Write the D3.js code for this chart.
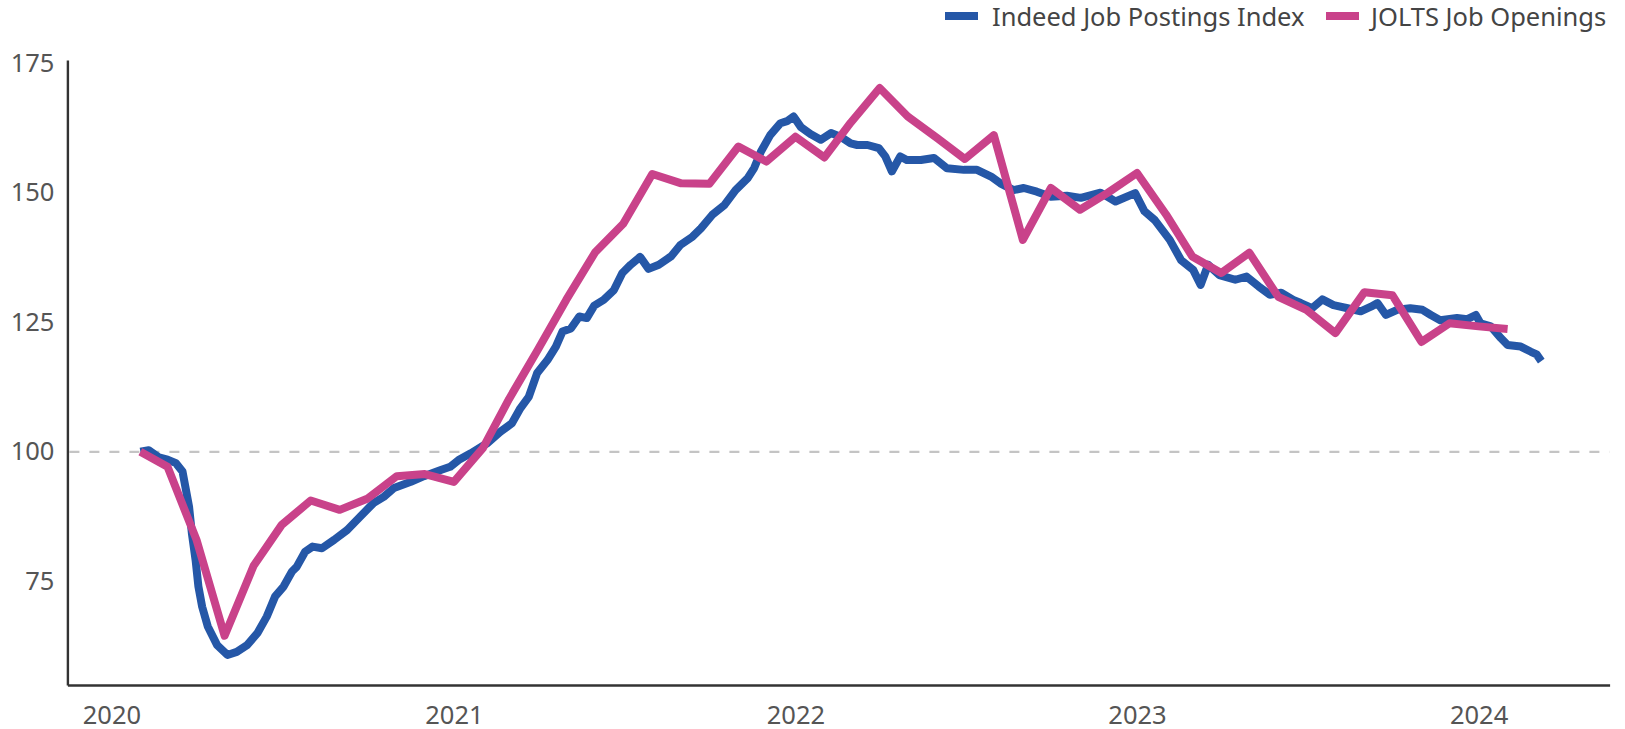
<!DOCTYPE html>
<html>
<head>
<meta charset="utf-8">
<script src="https://cdn.jsdelivr.net/npm/d3@7"></script>
<style>
  html, body { margin: 0; padding: 0; background: #fff; }
  svg { display: block; font-family: "Noto Sans", "Open Sans", sans-serif; }
</style>
</head>
<body>
<svg id="chart" width="1625" height="729"></svg>
<script>
// ---------------- DATA ----------------
const seriesNames = ["Indeed Job Postings Index", "JOLTS Job Openings"];
const yTickValues = [75, 100, 125, 150, 175];
const xTickYears = ["2020", "2021", "2022", "2023", "2024"];
const baselineValue = 100;

// JOLTS job openings, monthly, indexed (Feb 2020 = 100)
const joltsDates = [
  "2020-02-01","2020-03-01","2020-04-01","2020-05-01","2020-06-01","2020-07-01","2020-08-01","2020-09-01","2020-10-01","2020-11-01","2020-12-01",
  "2021-01-01","2021-02-01","2021-03-01","2021-04-01","2021-05-01","2021-06-01","2021-07-01","2021-08-01","2021-09-01","2021-10-01","2021-11-01","2021-12-01",
  "2022-01-01","2022-02-01","2022-03-01","2022-04-01","2022-05-01","2022-06-01","2022-07-01","2022-08-01","2022-09-01","2022-10-01","2022-11-01","2022-12-01",
  "2023-01-01","2023-02-01","2023-03-01","2023-04-01","2023-05-01","2023-06-01","2023-07-01","2023-08-01","2023-09-01","2023-10-01","2023-11-01","2023-12-01",
  "2024-01-01","2024-02-01"
];
const joltsValues = [
  100, 97.1, 83.0, 64.5, 78.0, 85.9, 90.6, 88.8, 91.0, 95.3, 95.7,
  94.2, 100.7, 110.2, 119.8, 129.3, 138.5, 144.0, 153.6, 151.8, 151.7, 158.9, 156.0,
  160.8, 156.8, 163.5, 170.2, 164.7, 160.6, 156.5, 161.1, 140.9, 150.9, 146.7, 150.0,
  153.8, 145.8, 137.7, 134.5, 138.4, 129.9, 127.4, 122.9, 130.8, 130.2, 121.2, 124.8,
  124.2, 123.7
];

// Indeed Job Postings Index (Feb 1, 2020 = 100)
const indeedDates = [
  "2020-02-01","2020-02-10","2020-02-21","2020-03-01","2020-03-10","2020-03-17","2020-03-20","2020-03-24","2020-03-27","2020-03-31",
  "2020-04-03","2020-04-07","2020-04-13","2020-04-23","2020-05-04","2020-05-14","2020-05-25","2020-06-05","2020-06-15","2020-06-24",
  "2020-07-03","2020-07-12","2020-07-17","2020-07-26","2020-08-03","2020-08-13","2020-08-26","2020-09-09","2020-09-23","2020-10-07",
  "2020-10-18","2020-10-29","2020-11-16","2020-11-30","2020-12-18","2020-12-28",
  "2021-01-06","2021-01-19","2021-02-06","2021-02-20","2021-03-04","2021-03-13","2021-03-22","2021-03-31","2021-04-11","2021-04-20",
  "2021-04-27","2021-05-06","2021-05-15","2021-05-23","2021-05-31","2021-06-10","2021-06-21","2021-06-30","2021-07-09","2021-07-19",
  "2021-07-28","2021-08-08","2021-08-21","2021-08-31","2021-09-13","2021-09-22","2021-10-04","2021-10-17","2021-10-29","2021-11-11",
  "2021-11-18","2021-11-25","2021-12-05","2021-12-16","2021-12-23","2021-12-30",
  "2022-01-07","2022-01-17","2022-01-28","2022-02-08","2022-02-18","2022-03-01","2022-03-08","2022-03-19","2022-03-31","2022-04-07",
  "2022-04-14","2022-04-23","2022-04-30","2022-05-15","2022-05-29","2022-06-12","2022-06-30","2022-07-14","2022-07-29","2022-08-08",
  "2022-08-22","2022-09-02","2022-09-16","2022-10-01","2022-10-18","2022-11-02","2022-11-23","2022-12-09","2022-12-30",
  "2023-01-09","2023-01-20","2023-02-05","2023-02-17","2023-03-02","2023-03-10","2023-03-18","2023-03-30","2023-04-16","2023-04-28",
  "2023-05-11","2023-05-23","2023-06-04","2023-06-17","2023-06-25","2023-07-07","2023-07-18","2023-07-30","2023-08-14","2023-08-28",
  "2023-09-08","2023-09-15","2023-09-24","2023-10-06","2023-10-20","2023-11-02","2023-11-11","2023-11-21","2023-12-09","2023-12-20",
  "2023-12-29","2024-01-03","2024-01-14","2024-01-25","2024-02-01","2024-02-15","2024-02-26","2024-03-03","2024-03-08"
];
const indeedValues = [
  100.0, 100.3, 98.9, 98.5, 97.8, 96.2, 93.3, 89.4, 84.3, 79.1,
  74.0, 70.1, 66.3, 62.7, 60.8, 61.4, 62.7, 65.0, 68.2, 72.1,
  74.0, 76.9, 77.8, 80.7, 81.7, 81.4, 83.0, 84.9, 87.5, 90.1,
  91.3, 93.0, 94.2, 95.3, 96.5, 97.1,
  98.4, 99.7, 101.7, 103.9, 105.5, 108.4, 110.6, 115.2, 117.7, 120.3,
  123.2, 123.8, 126.1, 125.8, 128.2, 129.3, 131.2, 134.5, 136.1, 137.6,
  135.3, 136.1, 137.7, 139.9, 141.5, 143.1, 145.7, 147.6, 150.5, 152.8,
  154.8, 157.9, 161.1, 163.4, 163.8, 164.7,
  162.6, 161.3, 160.2, 161.5, 160.8, 159.5, 159.2, 159.2, 158.6, 157.0,
  154.1, 157.0, 156.3, 156.3, 156.7, 154.7, 154.4, 154.4, 153.1, 151.8,
  150.5, 150.9, 150.2, 149.2, 149.4, 149.0, 150.0, 148.3, 149.9,
  146.4, 144.7, 140.9, 137.0, 135.1, 132.2, 136.1, 134.1, 133.2, 133.8,
  131.9, 130.3, 130.7, 129.3, 128.7, 127.7, 129.4, 128.3, 127.7, 127.1,
  128.0, 128.7, 126.4, 127.4, 127.7, 127.4, 126.4, 125.4, 125.8, 125.6,
  126.4, 124.8, 124.2, 121.9, 120.6, 120.3, 119.3, 118.8, 117.5
];

const colors = ["#2557a7", "#c9428a"];

// ---------------- CHART ----------------
(function () {
const parse = d3.utcParse("%Y-%m-%d");
const indeed = indeedDates.map((d, i) => ({ date: parse(d), value: indeedValues[i] }));
const jolts = joltsDates.map((d, i) => ({ date: parse(d), value: joltsValues[i] }));

const svg = d3.select("#chart");
const plotLeft = 67.4, plotRight = 1609.6, plotTop = 60, plotBottom = 685;
const fontSize = "25.5px";

const x = d3.scaleUtc()
  .domain([parse("2019-11-15"), parse("2024-05-20")])
  .range([plotLeft, plotRight]);
const y = d3.scaleLinear()
  .domain([55, 175.6])
  .range([plotBottom, plotTop]);

// baseline dashed
svg.append("line")
  .attr("x1", plotLeft + 2).attr("x2", plotRight)
  .attr("y1", y(baselineValue)).attr("y2", y(baselineValue))
  .attr("stroke", "#c4c4c4").attr("stroke-width", 2.2)
  .attr("stroke-dasharray", "10 10");

// y axis
const yAxis = svg.append("g")
  .attr("transform", `translate(${plotLeft},0)`)
  .call(d3.axisLeft(y).tickValues(yTickValues).tickSize(0).tickPadding(13).tickSizeOuter(0));
yAxis.select(".domain").attr("stroke", "#333").attr("stroke-width", 2.4);
yAxis.selectAll("text")
  .attr("fill", "#555").style("font-size", fontSize)
  .style("font-family", "'Noto Sans', 'Open Sans', sans-serif");

// x axis
const xAxis = svg.append("g")
  .attr("transform", `translate(0,${plotBottom})`)
  .call(d3.axisBottom(x).tickValues(xTickYears.map(s => parse(s + "-01-01")))
    .tickFormat(d3.utcFormat("%Y")).tickSize(0).tickSizeOuter(0));
xAxis.select(".domain").attr("stroke", "#333").attr("stroke-width", 2.4);
xAxis.selectAll("text")
  .attr("fill", "#555").attr("y", 38.5).attr("dy", 0)
  .style("font-size", fontSize)
  .style("font-family", "'Noto Sans', 'Open Sans', sans-serif");

// lines
const line = d3.line().x(d => x(d.date)).y(d => y(d.value));
svg.append("path").datum(indeed)
  .attr("fill", "none").attr("stroke", colors[0]).attr("stroke-width", 8)
  .attr("stroke-linejoin", "round").attr("stroke-linecap", "butt")
  .attr("d", line);
svg.append("path").datum(jolts)
  .attr("fill", "none").attr("stroke", colors[1]).attr("stroke-width", 8)
  .attr("stroke-linejoin", "round").attr("stroke-linecap", "butt")
  .attr("d", line);

// legend
const legendItems = [
  { name: seriesNames[0], color: colors[0], swatchX: 945, textX: 992 },
  { name: seriesNames[1], color: colors[1], swatchX: 1326, textX: 1371 }
];
const legend = svg.append("g");
legendItems.forEach(it => {
  legend.append("rect")
    .attr("x", it.swatchX).attr("y", 12).attr("width", 33).attr("height", 8)
    .attr("fill", it.color);
  legend.append("text")
    .attr("x", it.textX).attr("y", 26)
    .attr("fill", "#444").style("font-size", fontSize)
    .text(it.name);
});
})();
</script>
</body>
</html>
